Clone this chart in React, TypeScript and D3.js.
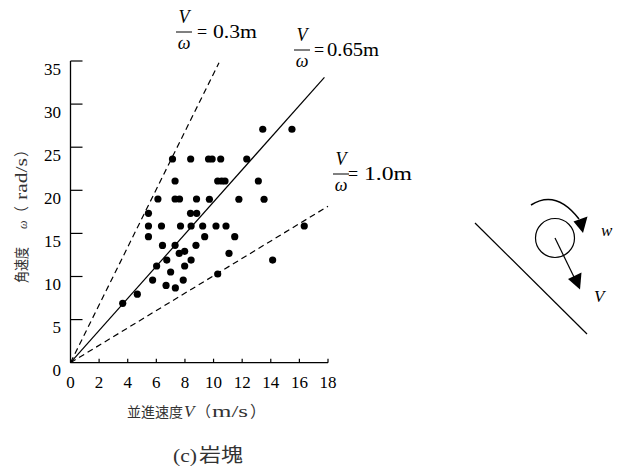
import React from 'react';
import * as d3 from 'd3';

// translational velocity V (m/s) and angular velocity ω (rad/s) of each sample
const speedV = [
  3.65, 4.67, 5.45, 5.45, 5.45, 5.74, 6.02, 6.11, 6.36, 6.43,
  6.68, 6.73, 7.0, 7.13, 7.31, 7.31, 7.31, 7.33, 7.62, 7.69,
  7.6, 7.98, 7.88, 7.98, 8.4, 8.39, 8.43, 8.43, 8.81, 8.82,
  8.77, 9.24, 9.38, 9.65, 9.9, 9.71, 10.17, 10.29, 10.29, 10.57,
  10.8, 10.5, 10.87, 11.08, 11.48, 11.77, 12.32, 13.13, 13.44, 13.53,
  14.13, 15.48, 16.34,
];
const omega = [
  6.89, 7.95, 17.33, 15.86, 14.62, 9.59, 11.22, 18.99, 15.86, 13.6,
  8.96, 11.91, 10.52, 23.63, 21.08, 18.99, 13.62, 8.67, 18.99, 15.86,
  12.69, 12.92, 9.59, 11.22, 23.63, 17.33, 15.86, 11.91, 18.99, 17.33,
  13.62, 15.86, 14.62, 23.63, 23.63, 18.96, 15.86, 10.29, 21.08, 21.08,
  21.08, 23.63, 15.86, 12.69, 14.62, 18.96, 23.63, 21.08, 27.08, 18.96,
  11.91, 27.08, 15.86,
];

// reference lines V/ω from the origin, end point in data units
const lineNames = ['0.3m', '0.65m', '1.0m'];
const lineEndV = [10.38, 17.75, 18.0];
const lineEndOmega = [34.8, 33.1, 18.15];
const lineDashed = [true, false, true];

const xTicks = [0, 2, 4, 6, 8, 10, 12, 14, 16, 18];
const yTicks = [0, 5, 10, 15, 20, 25, 30, 35];

const serif = "'Liberation Serif', 'Times New Roman', serif";
const cjk = "'Noto Sans CJK JP', sans-serif";

// fraction label layout (pixels): fraction left, bar y, "=" x, value x, value width
const labelPos = [
  { x: 176, bar: 32, ex: 197, tx: 213, tw: 44 },
  { x: 294, bar: 50, ex: 314, tx: 327, tw: 52 },
  { x: 333, bar: 174, ex: 348, tx: 364, tw: 48 },
];

const Fraction = ({ x, bar, ex, tx, tw, text }: any) => (
  <g style={{ fontFamily: serif }} fontSize={18} fill="#000">
    <text x={x + 8} y={bar - 9} textAnchor="middle" fontStyle="italic">V</text>
    <line x1={x} x2={x + 16} y1={bar} y2={bar} stroke="#000" strokeWidth={1} />
    <text x={x + 8} y={bar + 17} textAnchor="middle" fontStyle="italic">ω</text>
    <text y={bar + 5.5}>
      <tspan x={ex}>=</tspan>
      <tspan x={tx} textLength={tw} lengthAdjust="spacingAndGlyphs">{text}</tspan>
    </text>
  </g>
);

export default function App() {
  const x = d3.scaleLinear().domain([0, 18]).range([70.5, 328]);
  const y = d3.scaleLinear().domain([0, 35]).range([362.7, 61]);
  const line = d3.line<[number, number]>().x(d => x(d[0])).y(d => y(d[1]));

  return (
    <svg width={632} height={467} style={{ position: 'absolute', left: 0, top: 0, background: '#fff' }}>
      {/* reference lines */}
      {lineNames.map((n, i) => (
        <path
          key={n}
          d={line([[0, 0], [lineEndV[i], lineEndOmega[i]]]) || ''}
          fill="none"
          stroke="#000"
          strokeWidth={1.2}
          strokeDasharray={lineDashed[i] ? '6 4' : undefined}
        />
      ))}

      {/* points */}
      {speedV.map((v, i) => (
        <circle key={i} cx={x(v)} cy={y(omega[i])} r={3.6} fill="#000" />
      ))}

      {/* axes */}
      <line x1={x(0)} x2={x(0)} y1={y(0)} y2={y(35)} stroke="#000" strokeWidth={1.3} />
      <line x1={x(0)} x2={x(18)} y1={y(0)} y2={y(0)} stroke="#000" strokeWidth={1.3} />
      {yTicks.filter(t => t > 0).map(t => (
        <line key={t} x1={x(0)} x2={x(0) + 12} y1={y(t)} y2={y(t)} stroke="#000" strokeWidth={1.2} />
      ))}
      {xTicks.filter(t => t > 0).map(t => (
        <line key={t} x1={x(t)} x2={x(t)} y1={y(0)} y2={y(0) - 4} stroke="#000" strokeWidth={1.2} />
      ))}
      <g style={{ fontFamily: serif }} fontSize={17} fill="#000">
        {yTicks.map(t => (
          <text key={t} x={61} y={y(t) + 13.5} textAnchor="end">{t}</text>
        ))}
        {xTicks.map(t => (
          <text key={t} x={x(t)} y={387.5} textAnchor="middle">{t}</text>
        ))}
      </g>

      {/* y axis title, read bottom to top */}
      <text transform="translate(27,0) rotate(-90)" y={0} fill="#333">
        <tspan x={-283} fontSize={15} style={{ fontFamily: cjk }} textLength={36} lengthAdjust="spacingAndGlyphs">角速度</tspan>
        <tspan x={-229} fontSize={12} fontStyle="italic" style={{ fontFamily: serif }}>ω</tspan>
        <tspan x={-221} fontSize={15} style={{ fontFamily: cjk }}>（</tspan>
        <tspan x={-200} fontSize={16} style={{ fontFamily: serif }} textLength={42} lengthAdjust="spacingAndGlyphs">rad/s</tspan>
        <tspan x={-157} fontSize={15} style={{ fontFamily: cjk }}>）</tspan>
      </text>

      {/* x axis title */}
      <text y={417} fill="#333">
        <tspan x={127} fontSize={14} style={{ fontFamily: cjk }}>並進速度</tspan>
        <tspan x={184} fontSize={17} fontStyle="italic" style={{ fontFamily: serif }}>V</tspan>
        <tspan x={196} fontSize={15} style={{ fontFamily: cjk }}>（</tspan>
        <tspan x={212} fontSize={17} style={{ fontFamily: serif }} textLength={36} lengthAdjust="spacingAndGlyphs">m/s</tspan>
        <tspan x={250} fontSize={16} style={{ fontFamily: cjk }}>）</tspan>
      </text>

      {/* caption */}
      <text y={462} fill="#333">
        <tspan x={173} fontSize={18} style={{ fontFamily: serif }} textLength={24} lengthAdjust="spacingAndGlyphs">(c)</tspan>
        <tspan x={199} fontSize={19} style={{ fontFamily: cjk }} textLength={44} lengthAdjust="spacingAndGlyphs">岩塊</tspan>
      </text>

      {/* line labels */}
      {lineNames.map((n, i) => (
        <Fraction key={n} {...labelPos[i]} text={n} />
      ))}

      {/* schematic: rock on slope */}
      <line x1={475} y1={223} x2={587} y2={334} stroke="#000" strokeWidth={1.2} />
      <circle cx={555} cy={238} r={19.5} fill="none" stroke="#000" strokeWidth={1.2} />
      <path d="M531,205 Q556,189 579,219" fill="none" stroke="#000" strokeWidth={1.5} />
      <path d="M573.5,221.5 L587.5,216.5 L583,233 Z" fill="#000" />
      <line x1={555} y1={238} x2={574} y2={277} stroke="#000" strokeWidth={1.2} />
      <path d="M568,279 L581.5,272.5 L580,289.5 Z" fill="#000" />
      <text x={601} y={236} style={{ fontFamily: serif }} fontStyle="italic" fontSize={17}>w</text>
      <text x={594} y={302} style={{ fontFamily: serif }} fontStyle="italic" fontSize={17}>V</text>
    </svg>
  );
}
